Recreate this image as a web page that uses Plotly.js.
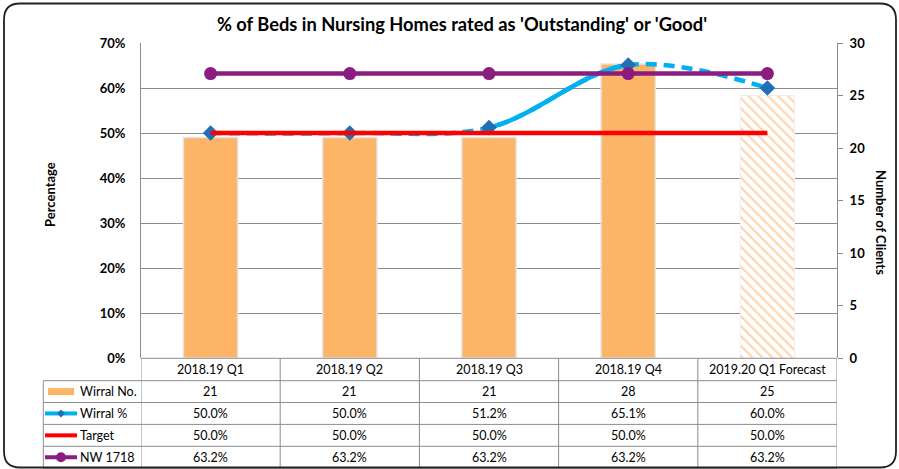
<!DOCTYPE html>
<html><head><meta charset="utf-8">
<script src="https://cdn.plot.ly/plotly-3.0.1.min.js"></script>
<style>html,body{margin:0;padding:0;background:#fff}#chart{width:899px;height:469px}</style>
</head><body><div id="chart"></div><script>
// ---- data ----
const categories = ['2018.19 Q1','2018.19 Q2','2018.19 Q3','2018.19 Q4','2019.20 Q1 Forecast'];
const wirralNo  = [21, 21, 21, 28, 25];
const wirralPct = [0.500, 0.500, 0.512, 0.651, 0.600];
const target    = [0.500, 0.500, 0.500, 0.500, 0.500];
const nw1718    = [0.632, 0.632, 0.632, 0.632, 0.632];
const seriesNames = ['Wirral No.', 'Wirral %', 'Target', 'NW 1718'];
const leftTickVals = [0, 0.1, 0.2, 0.3, 0.4, 0.5, 0.6, 0.7];
const leftTickText = ['0%','10%','20%','30%','40%','50%','60%','70%'];
const rightTickVals = [0, 5, 10, 15, 20, 25, 30];
const titleText = "% of Beds in Nursing Homes rated as 'Outstanding' or 'Good'";

// ---- geometry helpers (pixels -> paper) ----
const W = 899, H = 469, L = 141, R = 837, T = 43, B = 358;
const px = v => (v - L) / (R - L);
const py = v => (B - v) / (B - T);
const idx = categories.map((c, i) => i);
const nActual = 4; // first four bars are actuals, last is the forecast
const xRange = [-0.5, categories.length - 0.5];
const solidFrom = 2, solidTo = 3;
const dom = v => (v - xRange[0]) / (xRange[1] - xRange[0]);

const FONT = 'Lato, "Open Sans", sans-serif';
const ORANGE = '#FCB467', BLUE = '#00B0F0', DIAM = '#1F6FB8', RED = '#FF0000', PURPLE = '#8B1C80', GRID = '#8c8c8c';

const traces = [
  // keeps the base (left % axis) subplot alive
  { type: 'scatter', mode: 'lines', x: idx, y: target, xaxis: 'x', yaxis: 'y',
    line: { color: 'rgba(0,0,0,0)', width: 0 }, showlegend: false, hoverinfo: 'skip' },
  { type: 'bar', x: idx.slice(0, nActual), y: wirralNo.slice(0, nActual), xaxis: 'x', yaxis: 'y2', width: 0.39,
    marker: { color: ORANGE, line: { color: '#e4e4e4', width: 1.5 } },
    hoverinfo: 'skip', showlegend: false },
  { type: 'bar', x: idx.slice(nActual), y: wirralNo.slice(nActual), xaxis: 'x', yaxis: 'y2', width: 0.39,
    marker: { color: '#ffffff', line: { color: '#eeeeee', width: 1 },
      pattern: { shape: '\\', fgcolor: '#FBA95C', bgcolor: '#ffffff', size: 7, solidity: 0.32, fillmode: 'overlay' } },
    hoverinfo: 'skip', showlegend: false },
  { type: 'scatter', mode: 'lines', x: idx, y: wirralPct, xaxis: 'x2', yaxis: 'y3',
    line: { color: BLUE, width: 4.5, shape: 'spline', smoothing: 1, dash: '11px,7px' }, showlegend: false, hoverinfo: 'skip' },
  { type: 'scatter', mode: 'lines', x: idx, y: wirralPct, xaxis: 'x3', yaxis: 'y3',
    line: { color: BLUE, width: 4.5, shape: 'spline', smoothing: 1 }, showlegend: false, hoverinfo: 'skip' },
  { type: 'scatter', mode: 'markers', x: idx, y: wirralPct, xaxis: 'x4', yaxis: 'y3',
    marker: { symbol: 'diamond', size: 12, color: DIAM }, showlegend: false, hoverinfo: 'skip' },
  { type: 'scatter', mode: 'lines', x: idx, y: target, xaxis: 'x4', yaxis: 'y3',
    line: { color: RED, width: 4.5 }, showlegend: false, hoverinfo: 'skip' },
  { type: 'scatter', mode: 'lines+markers', x: idx, y: nw1718, xaxis: 'x4', yaxis: 'y3',
    line: { color: PURPLE, width: 4.5 }, marker: { size: 13, color: PURPLE }, showlegend: false, hoverinfo: 'skip' }
];

const hiddenX = { range: xRange, visible: false, fixedrange: true, anchor: 'y3', domain: [0, 1] };

// ---- table shapes ----
const shapes = [];
const lineStyle = { color: GRID, width: 1 };
const rowY = [358.3, 380.7, 402.5, 424.4, 446.3, 468.2];
shapes.push({ type: 'line', xref: 'paper', yref: 'paper', x0: 0, x1: 1, y0: py(rowY[0]), y1: py(rowY[0]), line: lineStyle });
for (let r = 1; r < rowY.length; r++) {
  shapes.push({ type: 'line', xref: 'paper', yref: 'paper', x0: px(43.3), x1: 1, y0: py(rowY[r]), y1: py(rowY[r]), line: lineStyle });
}
for (let c = 0; c <= categories.length; c++) {
  const xv = c - 0.5;
  shapes.push({ type: 'line', xref: 'x', yref: 'paper', x0: xv, x1: xv, y0: py(rowY[0]), y1: py(rowY[5]), line: lineStyle });
}
shapes.push({ type: 'line', xref: 'paper', yref: 'paper', x0: px(43.3), x1: px(43.3), y0: py(rowY[1]), y1: py(rowY[5]), line: lineStyle });

// legend keys
const rc = r => (rowY[r] + rowY[r + 1]) / 2;
shapes.push({ type: 'rect', xref: 'paper', yref: 'paper', x0: px(48), x1: px(74), y0: py(rc(1) - 3.5), y1: py(rc(1) + 3.5), fillcolor: ORANGE, line: { width: 0 } });
shapes.push({ type: 'line', xref: 'paper', yref: 'paper', x0: px(45), x1: px(77), y0: py(rc(2)), y1: py(rc(2)), line: { color: BLUE, width: 4 } });
shapes.push({ type: 'path', xref: 'paper', yref: 'paper',
  path: `M ${px(61)},${py(rc(2) - 4)} L ${px(65)},${py(rc(2))} L ${px(61)},${py(rc(2) + 4)} L ${px(57)},${py(rc(2))} Z`,
  fillcolor: DIAM, line: { width: 0 } });
shapes.push({ type: 'line', xref: 'paper', yref: 'paper', x0: px(45), x1: px(77), y0: py(rc(3)), y1: py(rc(3)), line: { color: RED, width: 4 } });
shapes.push({ type: 'line', xref: 'paper', yref: 'paper', x0: px(45), x1: px(77), y0: py(rc(4)), y1: py(rc(4)), line: { color: PURPLE, width: 4 } });
shapes.push({ type: 'circle', xref: 'paper', yref: 'paper', x0: px(56), x1: px(66), y0: py(rc(4) - 5), y1: py(rc(4) + 5), fillcolor: PURPLE, line: { width: 0 } });

// rounded outer border
(function () {
  const x0 = 4, y0 = 3.5, x1 = 896, y1 = 467.5, r = 16;
  const p = `M ${px(x0 + r)},${py(y0)} L ${px(x1 - r)},${py(y0)} Q ${px(x1)},${py(y0)} ${px(x1)},${py(y0 + r)} ` +
    `L ${px(x1)},${py(y1 - r)} Q ${px(x1)},${py(y1)} ${px(x1 - r)},${py(y1)} ` +
    `L ${px(x0 + r)},${py(y1)} Q ${px(x0)},${py(y1)} ${px(x0)},${py(y1 - r)} ` +
    `L ${px(x0)},${py(y0 + r)} Q ${px(x0)},${py(y0)} ${px(x0 + r)},${py(y0)} Z`;
  shapes.push({ type: 'path', xref: 'paper', yref: 'paper', path: p, line: { color: '#222', width: 1.8 }, layer: 'above' });
})();

// ---- table text ----
const annotations = [];
const tfont = { family: FONT, size: 12.5, color: '#000' };
const fmtPct = v => (v * 100).toFixed(1) + '%';
const rows = [categories, wirralNo.map(String), wirralPct.map(fmtPct), target.map(fmtPct), nw1718.map(fmtPct)];
rows.forEach((row, r) => {
  row.forEach((t, i) => {
    annotations.push({ xref: 'x', yref: 'paper', x: i, y: py(rc(r)), text: t, showarrow: false, font: tfont, xanchor: 'center', yanchor: 'middle' });
  });
});
seriesNames.forEach((n, k) => {
  annotations.push({ xref: 'paper', yref: 'paper', x: px(77.5), y: py(rc(k + 1)), text: n, showarrow: false, font: tfont, xanchor: 'left', yanchor: 'middle' });
});
annotations.push({ xref: 'paper', yref: 'paper', x: px(50), y: py(195), text: 'Percentage', textangle: -90, showarrow: false,
  font: { family: FONT, size: 13, color: '#000', weight: 'bold' }, xanchor: 'center', yanchor: 'middle' });
annotations.push({ xref: 'paper', yref: 'paper', x: px(881), y: py(222), text: 'Number of Clients', textangle: 90, showarrow: false,
  font: { family: FONT, size: 13, color: '#000', weight: 'bold' }, xanchor: 'center', yanchor: 'middle' });

const layout = {
  width: W, height: H, autosize: false,
  margin: { l: L, r: W - R, t: T, b: H - B, pad: 0 },
  paper_bgcolor: '#ffffff', plot_bgcolor: 'rgba(0,0,0,0)',
  font: { family: FONT, color: '#000' },
  title: { text: titleText, font: { family: FONT, size: 18.3, weight: 'bold', color: '#000' },
    x: 462 / W, xanchor: 'center', y: 1 - 25 / H, yanchor: 'middle', xref: 'container', yref: 'container' },
  showlegend: false, bargap: 0, barmode: 'overlay',
  xaxis: { range: xRange, domain: [0, 1], showgrid: false, showticklabels: false, ticks: '', zeroline: false, showline: false, fixedrange: true },
  yaxis: { range: [0, 0.7], tickvals: leftTickVals, ticktext: leftTickText, showgrid: true, gridcolor: GRID, gridwidth: 1,
    showline: true, linecolor: GRID, linewidth: 1, zeroline: false, ticks: '', ticklabelstandoff: 12,
    tickfont: { family: FONT, size: 13, weight: 'bold', color: '#000' }, fixedrange: true },
  yaxis2: { overlaying: 'y', side: 'right', range: [0, 30], tickvals: rightTickVals, showgrid: false, showline: true,
    linecolor: GRID, linewidth: 1, ticks: 'outside', ticklen: 5, tickcolor: GRID, zeroline: false, ticklabelstandoff: 4,
    tickfont: { family: FONT, size: 13, weight: 'bold', color: '#000' }, fixedrange: true },
  xaxis2: Object.assign({}, hiddenX),
  xaxis3: Object.assign({}, hiddenX, { domain: [dom(solidFrom), dom(solidTo)], range: [solidFrom, solidTo] }),
  xaxis4: Object.assign({}, hiddenX),
  yaxis3: { range: [0, 0.7], domain: [0, 1], visible: false, anchor: 'x2', fixedrange: true },
  shapes: shapes, annotations: annotations
};

Plotly.newPlot('chart', traces, layout, { staticPlot: true, displayModeBar: false });
</script></body></html>
